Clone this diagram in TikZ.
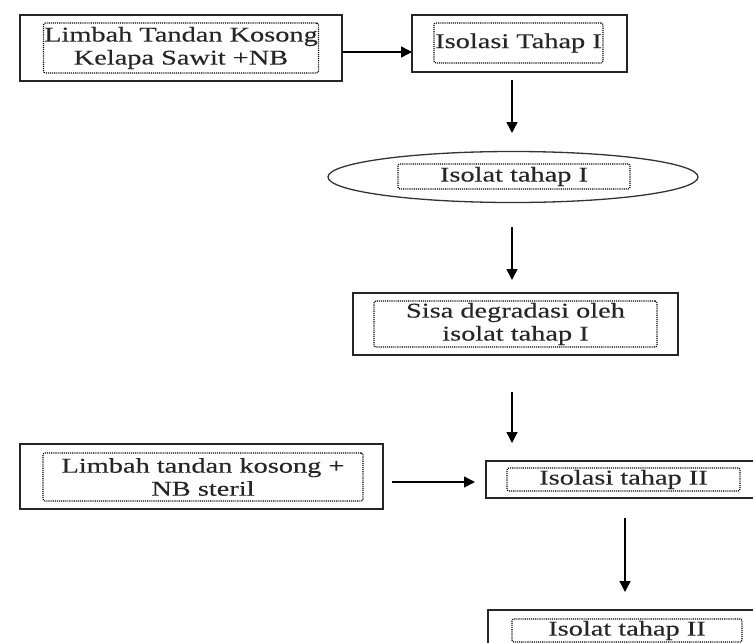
\documentclass[tikz,border=0pt]{standalone}
\usepackage{fontspec}
\newfontfamily\tnr[FakeStretch=1.35,FakeBold=0.25]{Liberation Serif}
\usetikzlibrary{shapes.geometric,arrows.meta}
\begin{document}
\begin{tikzpicture}[x=1pt,y=-1pt,
  outerbox/.style={draw=black!85,line width=1.6pt,rectangle,inner sep=0pt},
  ovalbox/.style={draw=black!80,line width=1.3pt,ellipse,inner sep=0pt},
  innerbox/.style={draw=black,line width=1.2pt,dash pattern=on 1.1pt off 1pt,rounded corners=2pt,rectangle,inner sep=0pt,align=center,font=\tnr\fontsize{21}{23}\selectfont,text=black!85},
  arr/.style={line width=1.5pt,draw=black,-{Triangle[length=11pt,width=11pt]}}]
\useasboundingbox (0,0) rectangle (753,643);
\clip (0,0) rectangle (753,643);
\fill[white] (0,0) rectangle (753,643);
% boxes
\node[outerbox,minimum width=322pt,minimum height=66pt] (b1) at (181,48) {};
\node[innerbox,minimum width=275pt,minimum height=50pt] (t1) at (181,48) {Limbah Tandan Kosong\\Kelapa Sawit +NB};
\node[outerbox,minimum width=215pt,minimum height=57pt] (b2) at (519.5,43.5) {};
\node[innerbox,minimum width=169pt,minimum height=40pt] (t2) at (518.5,43) {Isolasi Tahap I};
\node[ovalbox,minimum width=370pt,minimum height=51pt] (b3) at (513,177) {};
\node[innerbox,minimum width=232pt,minimum height=25pt] (t3) at (514,176.5) {Isolat tahap I};
\node[outerbox,minimum width=325pt,minimum height=62pt] (b4) at (515.5,324) {};
\node[innerbox,minimum width=283pt,minimum height=46pt] (t4) at (515.5,324) {Sisa degradasi oleh\\isolat tahap I};
\node[outerbox,minimum width=363pt,minimum height=65pt] (b5) at (201.5,476.5) {};
\node[innerbox,minimum width=320pt,minimum height=48pt] (t5) at (203,477) {Limbah tandan kosong +\\NB steril};
\node[outerbox,minimum width=271pt,minimum height=37pt] (b6) at (621.5,479.5) {};
\node[innerbox,minimum width=233pt,minimum height=23pt] (t6) at (623.5,479.5) {Isolasi tahap II};
\node[outerbox,minimum width=269pt,minimum height=38pt] (b7) at (622.5,629) {};
\node[innerbox,minimum width=230pt,minimum height=23pt] (t7) at (627,630.5) {Isolat tahap II};
% connector ends
\coordinate (a1s) at (342,52); \coordinate (a1e) at (412,52);
\coordinate (a2s) at (512,80); \coordinate (a2e) at (512,133);
\coordinate (a3s) at (512,227); \coordinate (a3e) at (512,280);
\coordinate (a4s) at (512,392); \coordinate (a4e) at (512,443);
\coordinate (a5s) at (392,482); \coordinate (a5e) at (475,482);
\coordinate (a6s) at (625,518); \coordinate (a6e) at (625,592);
\draw[arr] (a1s) -- (a1e);
\draw[arr] (a2s) -- (a2e);
\draw[arr] (a3s) -- (a3e);
\draw[arr] (a4s) -- (a4e);
\draw[arr] (a5s) -- (a5e);
\draw[arr] (a6s) -- (a6e);
\end{tikzpicture}
\end{document}
